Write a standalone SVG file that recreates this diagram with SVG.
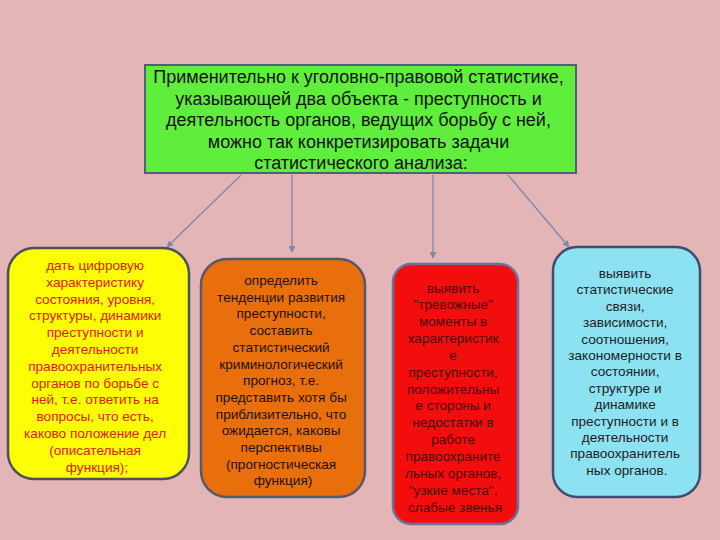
<svg xmlns="http://www.w3.org/2000/svg" width="720" height="540" viewBox="0 0 720 540">
<defs>
<style>
.t{font-family:"Liberation Sans",Arial,sans-serif;text-anchor:middle}
.big{font-size:18px;fill:#111}
.sm{font-size:13.6px}
.c{stroke:#7d88aa;stroke-width:1.3;fill:none;marker-end:url(#ah)}
</style>
<marker id="ah" viewBox="0 0 10 10" refX="9" refY="5" markerWidth="7" markerHeight="7" orient="auto" markerUnits="userSpaceOnUse">
<path d="M0,0 L10,5 L0,10 z" fill="#7d88aa"/>
</marker>
</defs>
<rect width="720" height="540" fill="#e3b5b6"/>
<g id="connectors">
<line class="c" x1="241" y1="175" x2="167" y2="247"/>
<line class="c" x1="292" y1="175" x2="292" y2="252"/>
<line class="c" x1="433" y1="175" x2="433" y2="258"/>
<line class="c" x1="508" y1="175" x2="569" y2="247"/>
</g>
<g id="top">
<rect x="145" y="65" width="431" height="108" fill="#60ee3c" stroke="#50607a" stroke-width="2"/>
<text class="t big" x="360">
<tspan x="361" y="83">Применительно к уголовно-правовой статистике,</tspan>
<tspan x="361" y="104.5">указывающей два объекта - преступность и</tspan>
<tspan x="361" y="126">деятельность органов, ведущих борьбу с ней,</tspan>
<tspan x="361" y="147.5">можно так конкретизировать задачи</tspan>
<tspan x="361" y="169">статистического анализа:</tspan>
</text>
</g>
<g id="n1">
<rect x="8" y="248" width="181" height="231" rx="26" fill="#fdfd05" stroke="#4c4f5c" stroke-width="2.5"/>
<text class="t sm" fill="#e01a10">
<tspan x="97" y="270">дать цифровую</tspan>
<tspan x="97" y="286.8">характеристику</tspan>
<tspan x="97" y="303.6">состояния, уровня,</tspan>
<tspan x="97" y="320.4">структуры, динамики</tspan>
<tspan x="97" y="337.2">преступности и</tspan>
<tspan x="97" y="354">деятельности</tspan>
<tspan x="97" y="370.8">правоохранительных</tspan>
<tspan x="97" y="387.6">органов по борьбе с</tspan>
<tspan x="97" y="404.4">ней, т.е. ответить на</tspan>
<tspan x="97" y="421.2">вопросы, что есть,</tspan>
<tspan x="97" y="438">каково положение дел</tspan>
<tspan x="97" y="454.8">(описательная</tspan>
<tspan x="97" y="471.6">функция);</tspan>
</text>
</g>
<g id="n2">
<rect x="201" y="259" width="164" height="238" rx="26" fill="#e96f0c" stroke="#55596a" stroke-width="2.5"/>
<text class="t sm" fill="#1a1208">
<tspan x="283" y="285">определить</tspan>
<tspan x="283" y="301.7">тенденции развития</tspan>
<tspan x="283" y="318.4">преступности,</tspan>
<tspan x="283" y="335.1">составить</tspan>
<tspan x="283" y="351.8">статистический</tspan>
<tspan x="283" y="368.5">криминологический</tspan>
<tspan x="283" y="385.2">прогноз, т.е.</tspan>
<tspan x="283" y="401.9">представить хотя бы</tspan>
<tspan x="283" y="418.6">приблизительно, что</tspan>
<tspan x="283" y="435.3">ожидается, каковы</tspan>
<tspan x="283" y="452">перспективы</tspan>
<tspan x="283" y="468.7">(прогностическая</tspan>
<tspan x="283" y="485.4">функция)</tspan>
</text>
</g>
<g id="n3">
<rect x="393" y="264" width="125" height="260" rx="18" fill="#f30d0d" stroke="#6a72a0" stroke-width="2.5"/>
<text class="t sm" fill="#4a0808">
<tspan x="455" y="292.5">выявить</tspan>
<tspan x="455" y="309.35">"тревожные"</tspan>
<tspan x="455" y="326.2">моменты в</tspan>
<tspan x="455" y="343.05">характеристик</tspan>
<tspan x="455" y="359.9">е</tspan>
<tspan x="455" y="376.75">преступности,</tspan>
<tspan x="455" y="393.6">положительны</tspan>
<tspan x="455" y="410.45">е стороны и</tspan>
<tspan x="455" y="427.3">недостатки в</tspan>
<tspan x="455" y="444.15">работе</tspan>
<tspan x="455" y="461">правоохраните</tspan>
<tspan x="455" y="477.85">льных органов,</tspan>
<tspan x="455" y="494.7">"узкие места",</tspan>
<tspan x="455" y="511.55">слабые звенья</tspan>
</text>
</g>
<g id="n4">
<rect x="553" y="247" width="147" height="250" rx="24" fill="#8de2f2" stroke="#3f4d6e" stroke-width="2.5"/>
<text class="t sm" fill="#1c2226">
<tspan x="627" y="278">выявить</tspan>
<tspan x="627" y="294.4">статистические</tspan>
<tspan x="627" y="310.8">связи,</tspan>
<tspan x="627" y="327.2">зависимости,</tspan>
<tspan x="627" y="343.6">соотношения,</tspan>
<tspan x="627" y="360">закономерности в</tspan>
<tspan x="627" y="376.4">состоянии,</tspan>
<tspan x="627" y="392.8">структуре и</tspan>
<tspan x="627" y="409.2">динамике</tspan>
<tspan x="627" y="425.6">преступности и в</tspan>
<tspan x="627" y="442">деятельности</tspan>
<tspan x="627" y="458.4">правоохранитель</tspan>
<tspan x="627" y="474.8">ных органов.</tspan>
</text>
</g>
</svg>
